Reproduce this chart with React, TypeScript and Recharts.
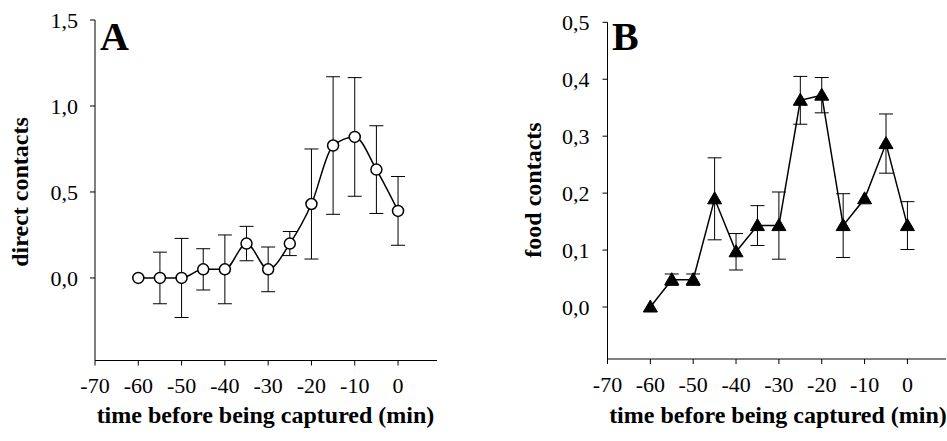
import React from 'react';
import { LineChart, Line, XAxis, YAxis, ErrorBar } from 'recharts';

// ---- data ----
const times = [-60, -55, -50, -45, -40, -35, -30, -25, -20, -15, -10, -5, 0];
const directContacts = [0, 0, 0, 0.05, 0.05, 0.2, 0.05, 0.2, 0.43, 0.77, 0.82, 0.63, 0.39];
const directErr = [null, 0.15, 0.23, 0.12, 0.2, 0.1, 0.13, 0.07, 0.32, 0.4, 0.345, 0.255, 0.2];
const foodContacts = [0, 0.048, 0.048, 0.19, 0.097, 0.143, 0.143, 0.363, 0.372, 0.143, 0.19, 0.287, 0.143];
const foodErr = [null, 0.01, 0.01, 0.072, 0.032, 0.035, 0.059, 0.042, 0.031, 0.056, null, 0.052, 0.042];
const xTicks = [-70, -60, -50, -40, -30, -20, -10, 0];
const directTicks = [0, 0.5, 1, 1.5];
const foodTicks = [0, 0.1, 0.2, 0.3, 0.4, 0.5];
const xTitle = 'time before being captured (min)';
const directTitle = 'direct contacts';
const foodTitle = 'food contacts';
const panelLetters = ['A', 'B'];

const dataA = times.map((t, i) => ({ t, v: directContacts[i], e: directErr[i] }));
const dataB = times.map((t, i) => ({ t, v: foodContacts[i], e: foodErr[i] }));

const FONT = '"Liberation Serif", "Times New Roman", serif';
const tickStyle = { fill: '#000', fontSize: 22, fontFamily: FONT };
const fmt = (v: number) => v.toFixed(1).replace('.', ',');

const Triangle = (props: any) => {
  const { cx, cy, index } = props;
  if (cx == null || cy == null) return null;
  return (
    <path
      key={`tri-${index}`}
      d={`M${cx},${cy - 7} L${cx + 7},${cy + 5} L${cx - 7},${cy + 5} Z`}
      fill="#000"
      stroke="#000"
      strokeWidth={1}
    />
  );
};

export default function App() {
  return (
    <div style={{ position: 'absolute', left: 0, top: 0, width: 947, height: 441, background: '#fff' }}>
      <div style={{ position: 'absolute', left: 0, top: 0 }}>
        <LineChart width={470} height={441} data={dataA} margin={{ top: 20, right: 33, bottom: 50.5, left: 35 }}>
          <XAxis
            dataKey="t"
            type="number"
            domain={[-70, 9]}
            ticks={xTicks}
            allowDataOverflow
            tickSize={5}
            tickMargin={12}
            tick={tickStyle}
            stroke="#000"
            height={30}
          />
          <YAxis
            type="number"
            domain={[-0.48, 1.5]}
            ticks={directTicks}
            allowDataOverflow
            tickFormatter={fmt}
            tickSize={5}
            tickMargin={12}
            tick={tickStyle}
            stroke="#000"
            width={60}
          />
          <Line
            dataKey="v"
            type="monotone"
            stroke="#000"
            strokeWidth={1.5}
            dot={{ r: 5.5, fill: '#fff', stroke: '#000', strokeWidth: 1.5 }}
            isAnimationActive={false}
          >
            <ErrorBar dataKey="e" width={7} stroke="#000" strokeWidth={1} direction="y" />
          </Line>
        </LineChart>
      </div>
      <div style={{ position: 'absolute', left: 470, top: 0 }}>
        <LineChart width={477} height={441} data={dataB} margin={{ top: 22.3, right: 1, bottom: 52, left: 77.5 }}>
          <XAxis
            dataKey="t"
            type="number"
            domain={[-70, 9]}
            ticks={xTicks}
            allowDataOverflow
            tickSize={5}
            tickMargin={12}
            tick={tickStyle}
            stroke="#000"
            height={30}
          />
          <YAxis
            type="number"
            domain={[-0.0913, 0.5]}
            ticks={foodTicks}
            allowDataOverflow
            tickFormatter={fmt}
            tickSize={5}
            tickMargin={13}
            tick={tickStyle}
            stroke="#000"
            width={60}
          />
          <Line
            dataKey="v"
            type="linear"
            stroke="#000"
            strokeWidth={1.5}
            dot={Triangle}
            isAnimationActive={false}
          >
            <ErrorBar dataKey="e" width={7} stroke="#000" strokeWidth={1} direction="y" />
          </Line>
        </LineChart>
      </div>
      <svg
        width={947}
        height={441}
        style={{ position: 'absolute', left: 0, top: 0, pointerEvents: 'none' }}
      >
        <g fontFamily={FONT} fontWeight="bold" fill="#000">
          <text x={100} y={50} fontSize={40}>{panelLetters[0]}</text>
          <text x={612} y={50} fontSize={40}>{panelLetters[1]}</text>
          <text x={265.5} y={423} fontSize={24} textAnchor="middle">{xTitle}</text>
          <text x={778} y={423} fontSize={24} textAnchor="middle">{xTitle}</text>
          <text transform="translate(28,192) rotate(-90)" fontSize={24} textAnchor="middle">{directTitle}</text>
          <text transform="translate(541,190) rotate(-90)" fontSize={24} textAnchor="middle">{foodTitle}</text>
        </g>
      </svg>
    </div>
  );
}
